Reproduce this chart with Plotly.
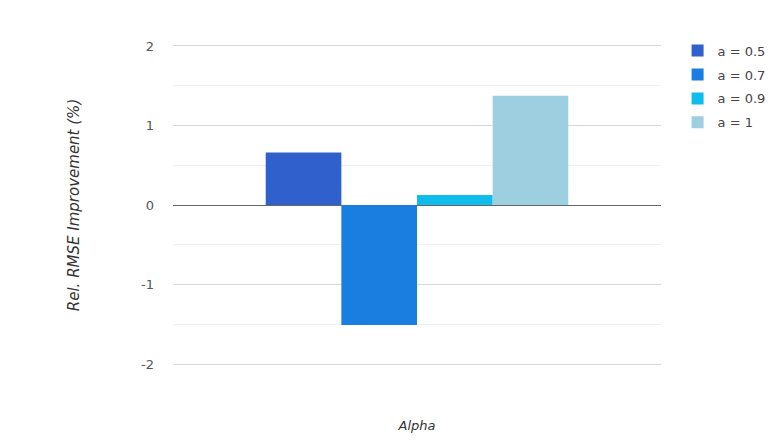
import plotly.graph_objects as go

categories = [""]
series_names = ["a = 0.5", "a = 0.7", "a = 0.9", "a = 1"]
series_values = [0.66, -1.51, 0.125, 1.375]
colors = ["#2f60cc", "#1a7ee0", "#0fbdec", "#9ecfe0"]
y_ticks = [-2, -1, 0, 1, 2]

FONT = "DejaVu Sans, Liberation Sans, Arial, sans-serif"

fig = go.Figure()
for name, val, col in zip(series_names, series_values, colors):
    fig.add_trace(go.Bar(x=categories, y=[val], name=name, legendgroup=name,
                         marker=dict(color=col, line=dict(width=0))))

fig.update_layout(
    width=783, height=443,
    margin=dict(l=173, r=118, t=44, b=77),
    paper_bgcolor="white", plot_bgcolor="white",
    barmode="group", bargap=0.38, bargroupgap=0,
    font=dict(family=FONT, size=13, color="#555"),
    showlegend=True,
    legend=dict(x=1.034, y=1.026, xanchor="left", yanchor="top", itemwidth=30,
                tracegroupgap=4, font=dict(family=FONT, size=13, color="#444")),
    xaxis=dict(showticklabels=False, showgrid=False, zeroline=False,
               title=dict(text="<i>Alpha</i>", standoff=54, font=dict(size=13, color="#333"))),
    yaxis=dict(range=[-2.025, 2.025], tickvals=y_ticks, ticktext=[str(v) for v in y_ticks],
               showgrid=True, gridcolor="#d8d8d8", gridwidth=1,
               zeroline=True, zerolinecolor="#666", zerolinewidth=1,
               minor=dict(dtick=0.5, showgrid=True, gridcolor="#f0f0f0"),
               ticks="", ticklabelstandoff=18,
               title=dict(text="<i>Rel. RMSE Improvement (%)</i>", standoff=57,
                          font=dict(size=15, color="#333"))),
)

fig.write_html("out.html")
